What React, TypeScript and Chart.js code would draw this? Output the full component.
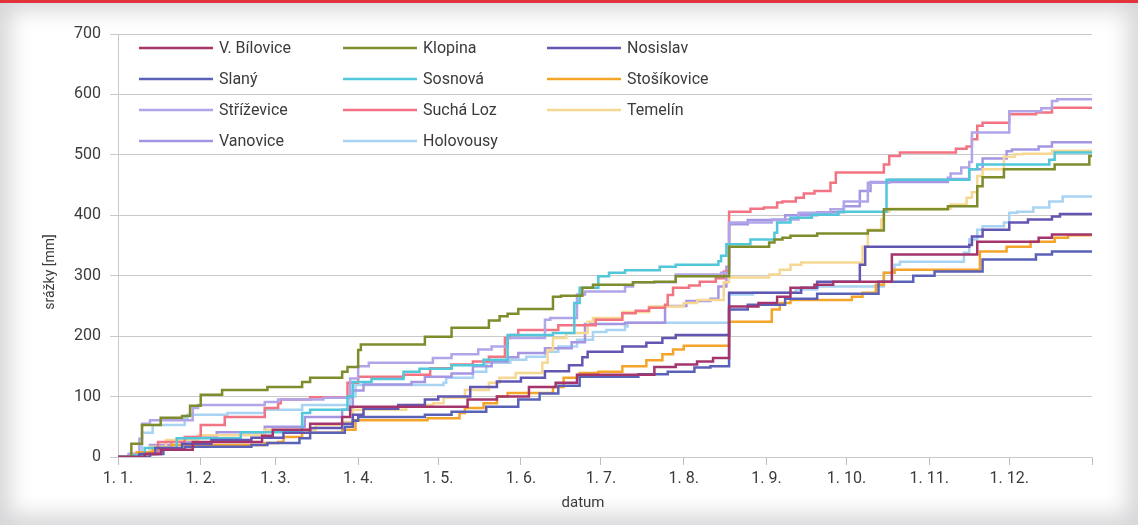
import React, { useEffect, useRef } from 'react';
import { Chart, registerables } from 'chart.js';

Chart.register(...registerables);

// Day of year at the start of each month, plus the year end
const monthStarts = [0, 31, 59, 90, 120, 151, 181, 212, 243, 273, 304, 334, 365];
const monthLabels = ['1. 1.', '1. 2.', '1. 3.', '1. 4.', '1. 5.', '1. 6.', '1. 7.', '1. 8.', '1. 9.', '1. 10.', '1. 11.', '1. 12.', ''];

const stations = [
  'V. Bílovice', 'Klopina', 'Nosislav',
  'Slaný', 'Sosnová', 'Stošíkovice',
  'Stříževice', 'Suchá Loz', 'Temelín',
  'Vanovice', 'Holovousy',
];

const stationColors = [
  '#a3356c', '#7f8c2c', '#6256b3',
  '#5a62b8', '#52c7da', '#f5a42a',
  '#b1a5ea', '#f27483', '#f6d893',
  '#a596e4', '#a9d3f2',
];

const yTitle = 'srážky [mm]';
const xTitle = 'datum';

// Cumulative precipitation [day of year, mm]
const vBilovice: [number, number][] = [[0, 0], [10, 5], [16, 12], [28, 25], [54, 35], [58, 45], [72, 55], [84, 66], [87, 83], [131, 95], [142, 100], [154, 116], [164, 123], [172, 136], [201, 149], [209, 153], [217, 158], [223, 164], [229, 249], [240, 255], [247, 265], [252, 280], [261, 285], [268, 290], [290, 335], [322, 356], [345, 363], [350, 368], [365, 368]];
const klopina: [number, number][] = [[0, 0], [5, 22], [9, 53], [16, 65], [24, 68], [27, 85], [31, 103], [39, 111], [56, 116], [69, 124], [72, 131], [84, 141], [86, 149], [90, 177], [91, 186], [115, 199], [125, 214], [139, 226], [143, 233], [146, 237], [150, 245], [163, 265], [166, 267], [174, 280], [178, 285], [193, 289], [201, 290], [209, 299], [229, 348], [244, 355], [246, 360], [249, 363], [252, 366], [262, 370], [281, 375], [287, 410], [311, 415], [322, 448], [324, 463], [332, 476], [351, 484], [364, 498], [365, 498]];
const nosislav: [number, number][] = [[0, 0], [8, 5], [14, 15], [24, 22], [35, 28], [50, 32], [62, 40], [72, 48], [84, 55], [88, 70], [92, 80], [105, 86], [115, 95], [120, 100], [132, 116], [142, 125], [151, 131], [160, 142], [169, 152], [174, 165], [176, 174], [189, 183], [198, 189], [204, 197], [209, 202], [229, 272], [256, 280], [262, 290], [278, 318], [280, 348], [319, 351], [320, 365], [324, 376], [334, 388], [341, 393], [350, 398], [353, 402], [365, 402]];
const slany: [number, number][] = [[0, 0], [12, 5], [17, 12], [25, 17], [50, 20], [56, 23], [68, 31], [72, 40], [85, 50], [88, 60], [90, 66], [115, 70], [125, 75], [138, 83], [150, 95], [158, 105], [165, 118], [173, 133], [195, 137], [206, 141], [216, 148], [222, 150], [229, 244], [236, 252], [250, 262], [262, 270], [285, 290], [298, 300], [306, 307], [324, 327], [344, 335], [350, 340], [365, 340]];
const sosnova: [number, number][] = [[0, 0], [6, 3], [10, 15], [22, 31], [46, 41], [69, 73], [72, 78], [86, 100], [88, 124], [95, 129], [107, 141], [113, 146], [125, 152], [137, 161], [146, 202], [163, 205], [171, 255], [173, 280], [180, 299], [184, 305], [190, 309], [203, 315], [209, 318], [225, 324], [226, 333], [228, 352], [237, 360], [246, 371], [247, 388], [252, 396], [260, 401], [270, 406], [288, 459], [319, 476], [322, 484], [349, 492], [351, 504], [365, 504]];
const stosikovice: [number, number][] = [[0, 0], [7, 8], [13, 15], [20, 20], [55, 23], [60, 25], [62, 33], [69, 40], [84, 45], [89, 61], [116, 64], [128, 73], [130, 81], [137, 89], [142, 100], [146, 106], [163, 116], [167, 131], [173, 139], [180, 141], [189, 150], [198, 160], [204, 170], [208, 178], [212, 184], [229, 224], [245, 244], [248, 255], [252, 260], [275, 265], [279, 272], [284, 285], [287, 305], [291, 310], [319, 310], [323, 340], [333, 348], [342, 356], [351, 363], [356, 367], [365, 368]];
const strizovice: [number, number][] = [[0, 0], [4, 5], [8, 30], [9, 55], [12, 61], [28, 81], [30, 86], [55, 91], [60, 95], [77, 98], [87, 130], [90, 150], [94, 156], [118, 164], [125, 170], [135, 178], [140, 183], [146, 197], [160, 227], [162, 230], [172, 269], [175, 274], [190, 282], [193, 289], [209, 302], [226, 305], [229, 388], [245, 393], [255, 404], [267, 410], [272, 423], [281, 454], [289, 459], [311, 462], [312, 469], [316, 479], [319, 488], [320, 537], [334, 572], [346, 577], [350, 589], [352, 592], [365, 592]];
const suchaLoz: [number, number][] = [[0, 0], [8, 5], [15, 25], [25, 33], [31, 53], [40, 66], [55, 81], [60, 89], [61, 95], [72, 99], [86, 123], [90, 133], [107, 136], [117, 147], [125, 153], [133, 158], [139, 166], [145, 197], [147, 202], [150, 210], [165, 218], [179, 227], [189, 238], [194, 242], [199, 247], [205, 252], [206, 268], [208, 280], [214, 284], [218, 290], [224, 296], [227, 307], [229, 406], [237, 411], [242, 413], [247, 421], [249, 423], [254, 429], [257, 436], [261, 440], [267, 454], [269, 471], [287, 484], [289, 498], [293, 504], [314, 510], [318, 514], [320, 526], [322, 548], [324, 553], [334, 567], [344, 570], [350, 578], [365, 580]];
const temelin: [number, number][] = [[0, 0], [6, 5], [12, 17], [18, 28], [30, 36], [55, 45], [74, 53], [84, 58], [88, 78], [108, 86], [118, 89], [122, 98], [130, 111], [139, 123], [143, 131], [149, 139], [159, 156], [161, 177], [163, 197], [168, 205], [176, 224], [178, 230], [189, 240], [199, 249], [212, 255], [217, 260], [227, 289], [229, 297], [244, 302], [248, 310], [252, 318], [256, 322], [279, 348], [281, 376], [286, 393], [287, 406], [289, 411], [312, 418], [318, 429], [320, 438], [322, 465], [324, 476], [332, 497], [336, 501], [339, 502], [350, 507], [365, 507]];
const vanovice: [number, number][] = [[0, 0], [6, 5], [12, 20], [20, 26], [28, 33], [37, 41], [55, 50], [70, 66], [84, 78], [88, 110], [92, 120], [110, 124], [115, 133], [125, 138], [133, 150], [140, 158], [146, 165], [150, 172], [160, 180], [170, 190], [175, 220], [190, 222], [205, 250], [213, 258], [222, 262], [225, 282], [228, 315], [229, 385], [236, 392], [250, 400], [262, 405], [272, 415], [278, 440], [282, 455], [311, 460], [319, 476], [324, 494], [333, 506], [335, 509], [345, 514], [350, 521], [365, 522]];
const holovousy: [number, number][] = [[0, 0], [4, 5], [9, 40], [13, 53], [25, 64], [26, 70], [41, 73], [55, 78], [69, 86], [87, 100], [89, 119], [122, 123], [123, 131], [133, 141], [138, 156], [147, 161], [153, 166], [160, 174], [165, 183], [172, 194], [178, 207], [183, 210], [190, 216], [191, 222], [229, 269], [238, 272], [254, 277], [262, 282], [287, 305], [291, 318], [293, 323], [317, 338], [319, 360], [322, 376], [324, 382], [332, 388], [334, 404], [337, 406], [343, 413], [349, 423], [354, 431], [365, 432]];

const seriesData = [
  vBilovice, klopina, nosislav,
  slany, sosnova, stosikovice,
  strizovice, suchaLoz, temelin,
  vanovice, holovousy,
];

const FONT = 'Roboto, "Noto Sans", sans-serif';
const TEXT = '#3b3b3b';
const GRID = '#c9c9c9';

// Legend drawn in three columns inside the plot area
const insideLegend = {
  id: 'insideLegend',
  afterDatasetsDraw(chart: any) {
    const { ctx, chartArea } = chart;
    ctx.save();
    chart.data.datasets.forEach((ds: any, i: number) => {
      const col = i % 3;
      const row = Math.floor(i / 3);
      const x = chartArea.left + 21 + col * 204;
      const y = chartArea.top + 14 + row * 31;
      ctx.strokeStyle = ds.borderColor;
      ctx.lineWidth = 2.5;
      ctx.beginPath();
      ctx.moveTo(x, y);
      ctx.lineTo(x + 74, y);
      ctx.stroke();
      ctx.fillStyle = TEXT;
      ctx.font = `16px ${FONT}`;
      ctx.textBaseline = 'middle';
      ctx.textAlign = 'left';
      ctx.fillText(ds.label, x + 80, y + 1);
    });
    ctx.restore();
  },
};

// Axis titles placed beside the plot area
const axisTitles = {
  id: 'axisTitles',
  afterDraw(chart: any) {
    const { ctx, chartArea } = chart;
    ctx.save();
    ctx.fillStyle = TEXT;
    ctx.textAlign = 'center';
    ctx.textBaseline = 'middle';
    ctx.font = `14px ${FONT}`;
    ctx.translate(chartArea.left - 68, chartArea.top + 238);
    ctx.rotate(-Math.PI / 2);
    ctx.fillText(yTitle, 0, 0);
    ctx.restore();
    ctx.save();
    ctx.fillStyle = TEXT;
    ctx.textAlign = 'center';
    ctx.textBaseline = 'middle';
    ctx.font = `15px ${FONT}`;
    ctx.fillText(xTitle, chartArea.left + 465, chartArea.bottom + 46);
    ctx.restore();
  },
};

export default function App() {
  const canvasRef = useRef<HTMLCanvasElement | null>(null);

  useEffect(() => {
    const canvas = canvasRef.current;
    if (!canvas) return;
    const chart = new Chart(canvas, {
      type: 'line',
      data: {
        datasets: stations.map((name, i) => ({
          label: name,
          data: seriesData[i].map(([x, y]) => ({ x, y })),
          borderColor: stationColors[i],
          backgroundColor: stationColors[i],
          borderWidth: 2.5,
          pointRadius: 0,
          stepped: true,
          fill: false,
        })),
      },
      options: {
        responsive: false,
        animation: false,
        devicePixelRatio: 1,
        layout: { padding: { left: 37, top: 34, right: 46, bottom: 9 } },
        plugins: {
          legend: { display: false },
          tooltip: { enabled: false },
        },
        scales: {
          x: {
            type: 'linear',
            min: 0,
            max: 365,
            afterBuildTicks: (scale: any) => {
              scale.ticks = monthStarts.map((v) => ({ value: v }));
            },
            afterFit: (scale: any) => {
              scale.height = 59;
            },
            ticks: {
              autoSkip: false,
              maxRotation: 0,
              padding: 4,
              color: TEXT,
              font: { family: FONT, size: 16 },
              callback: (_v: any, i: number) => monthLabels[i],
            },
            grid: { drawOnChartArea: false, tickLength: 8, color: '#bdbdbd' },
            border: { color: GRID },
          },
          y: {
            min: 0,
            max: 700,
            afterFit: (scale: any) => {
              scale.width = 81;
            },
            ticks: {
              stepSize: 100,
              padding: 9,
              color: TEXT,
              font: { family: FONT, size: 16 },
            },
            grid: { color: GRID, tickLength: 8 },
            border: { color: GRID },
          },
        },
      },
      plugins: [insideLegend, axisTitles],
    });
    return () => chart.destroy();
  }, []);

  return (
    <div
      style={{
        position: 'fixed',
        left: 0,
        top: 0,
        width: 1138,
        height: 525,
        background: '#ffffff',
        boxShadow: 'inset 0 0 22px 10px #d6d6d8',
        overflow: 'hidden',
      }}
    >
      <div style={{ position: 'absolute', left: 0, top: 0, width: 1138, height: 3, background: '#e2333d' }} />
      <canvas ref={canvasRef} width={1138} height={525} style={{ position: 'absolute', left: 0, top: 0 }} />
    </div>
  );
}
